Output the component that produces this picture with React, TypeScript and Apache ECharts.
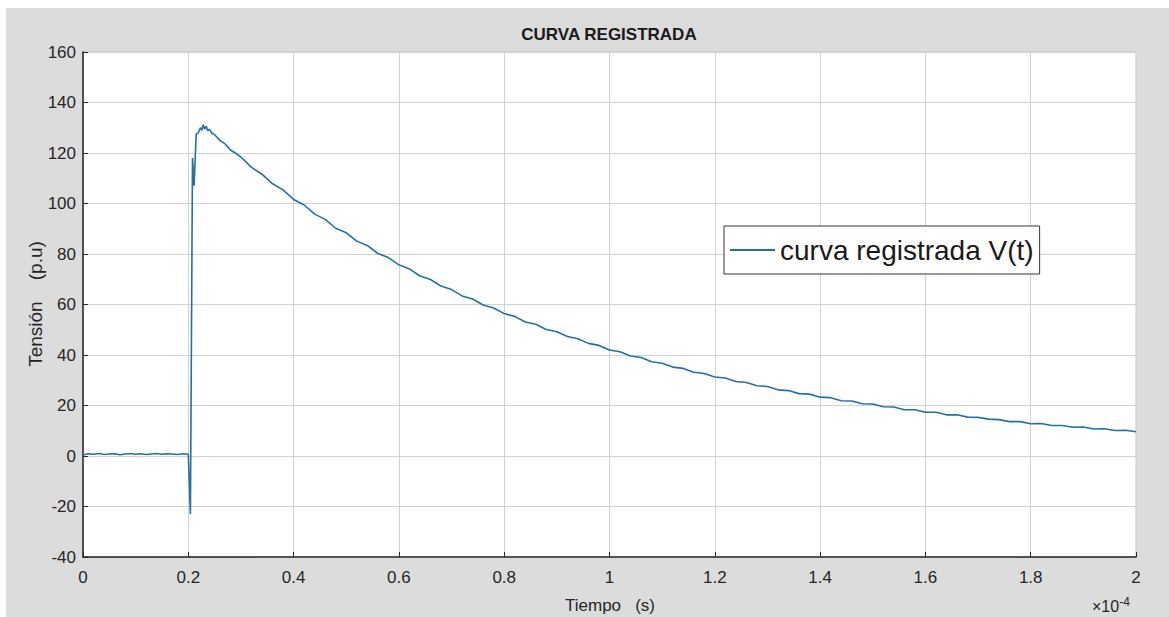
import React, { useEffect, useRef } from "react";
import * as echarts from "echarts";

// Time in units of 1e-4 s
const timeE4: number[] = [
  0, 0.01, 0.02, 0.03, 0.04, 0.05, 0.06, 0.07, 0.08, 0.09, 0.1, 0.11, 0.12, 0.13, 0.14, 0.15, 0.16, 0.17, 0.18, 0.19, 0.2,
  0.204, 0.208, 0.211, 0.215, 0.219, 0.223, 0.226, 0.228, 0.231, 0.234, 0.237, 0.24, 0.245, 0.25,
  0.26, 0.27, 0.28, 0.29, 0.3, 0.32, 0.34, 0.36, 0.38, 0.4, 0.42, 0.44, 0.46, 0.48, 0.5,
  0.52, 0.54, 0.56, 0.58, 0.6, 0.62, 0.64, 0.66, 0.68, 0.7, 0.72, 0.74, 0.76, 0.78, 0.8,
  0.82, 0.84, 0.86, 0.88, 0.9, 0.92, 0.94, 0.96, 0.98, 1.0, 1.02, 1.04, 1.06, 1.08, 1.1,
  1.12, 1.14, 1.16, 1.18, 1.2, 1.22, 1.24, 1.26, 1.28, 1.3, 1.32, 1.34, 1.36, 1.38, 1.4,
  1.42, 1.44, 1.46, 1.48, 1.5, 1.52, 1.54, 1.56, 1.58, 1.6, 1.62, 1.64, 1.66, 1.68, 1.7,
  1.72, 1.74, 1.76, 1.78, 1.8, 1.82, 1.84, 1.86, 1.88, 1.9, 1.92, 1.94, 1.96, 1.98, 2.0,
];

// Voltage in p.u
const tension: number[] = [
  0.4, 0.9, 0.7, 1.0, 0.6, 0.8, 0.9, 0.5, 0.8, 1.0, 0.7, 0.9, 0.6, 0.8, 1.0, 0.7, 0.9, 0.8, 0.6, 0.9, 0.7,
  -23, 118, 107, 127.5, 128, 130, 129, 131.2, 129.5, 130.6, 128.8, 129.4, 127.8, 127.2,
  125.0, 123.6, 121.2, 119.9, 118.4, 114.3, 111.6, 107.8, 105.4, 101.6, 99.4, 95.8, 93.7, 90.2, 88.4,
  85.1, 83.4, 80.2, 78.6, 75.7, 74.1, 71.3, 69.9, 67.3, 65.9, 63.4, 62.2, 59.8, 58.6, 56.4,
  55.3, 53.1, 52.2, 50.1, 49.2, 47.3, 46.4, 44.6, 43.8, 42.0, 41.3, 39.6, 39.0, 37.3, 36.7,
  35.2, 34.7, 33.2, 32.7, 31.3, 30.9, 29.5, 29.1, 27.8, 27.5, 26.2, 25.9, 24.7, 24.5, 23.3,
  23.1, 21.9, 21.8, 20.7, 20.6, 19.5, 19.4, 18.3, 18.3, 17.3, 17.3, 16.3, 16.3, 15.4, 15.3,
  14.6, 14.4, 13.6, 13.6, 12.8, 12.9, 12.1, 12.1, 11.4, 11.5, 10.7, 10.8, 10.1, 10.2, 9.6,
];

const seriesName = "curva registrada V(t)";
const titleText = "CURVA REGISTRADA";
const xName = "Tiempo   (s)";
const yName = "Tensión    (p.u)";

const FONT = "'Liberation Sans', Arial, sans-serif";

export default function App() {
  const ref = useRef<HTMLDivElement>(null);
  useEffect(() => {
    if (!ref.current) return;
    const chart = echarts.init(ref.current, null, { renderer: "svg" });
    const data = timeE4.map((t, i) => [t, tension[i]]);
    chart.setOption({
      animation: false,
      backgroundColor: "#ffffff",
      textStyle: { fontFamily: FONT },
      graphic: [
        {
          type: "rect",
          z: -10,
          silent: true,
          shape: { x: 6, y: 8, width: 1163, height: 609 },
          style: { fill: "#dcdcdc" },
        },
        {
          type: "text",
          x: 609,
          y: 34,
          style: {
            text: titleText,
            fontFamily: FONT,
            fontWeight: "bold",
            fontSize: 17,
            fill: "#1a1a1a",
            textAlign: "center",
            textVerticalAlign: "middle",
          },
        },
        {
          type: "text",
          x: 610,
          y: 605,
          style: {
            text: xName,
            fontFamily: FONT,
            fontSize: 17,
            fill: "#262626",
            textAlign: "center",
            textVerticalAlign: "middle",
          },
        },
        {
          type: "text",
          x: 35,
          y: 304,
          rotation: Math.PI / 2,
          style: {
            text: yName,
            fontFamily: FONT,
            fontSize: 19,
            fill: "#262626",
            textAlign: "center",
            textVerticalAlign: "middle",
          },
        },
        {
          type: "text",
          x: 1092,
          y: 606,
          style: {
            text: "{a|×10}{b|-4}",
            fontFamily: FONT,
            textVerticalAlign: "middle",
            rich: {
              a: { fontSize: 16, fill: "#262626", fontFamily: FONT },
              b: { fontSize: 12, fill: "#262626", fontFamily: FONT, verticalAlign: "top", padding: [0, 0, 8, 0] },
            },
          },
        },
      ],
      grid: {
        left: 83,
        right: 33,
        top: 52,
        bottom: 60,
        show: true,
        backgroundColor: "#ffffff",
        borderColor: "#c4c4c4",
        borderWidth: 1,
      },
      legend: {
        left: 724,
        top: 226,
        padding: [10, 6, 10, 6],
        backgroundColor: "#ffffff",
        borderColor: "#333333",
        borderWidth: 1,
        borderRadius: 0,
        icon: "rect",
        itemWidth: 45,
        itemHeight: 2,
        textStyle: { fontSize: 28, color: "#1a1a1a", fontFamily: FONT },
        data: [seriesName],
      },
      xAxis: {
        type: "value",
        min: 0,
        max: 2,
        interval: 0.2,
        axisLine: { show: true, onZero: false, lineStyle: { color: "#262626", width: 1.5 } },
        axisTick: { show: true, inside: true, length: 5, lineStyle: { color: "#262626" } },
        axisLabel: {
          fontSize: 17,
          color: "#262626",
          margin: 12,
          fontFamily: FONT,
          formatter: (v: number) => String(+v.toFixed(1)),
        },
        splitLine: { show: true, lineStyle: { color: "#d2d2d2", width: 1 } },
      },
      yAxis: {
        type: "value",
        min: -40,
        max: 160,
        interval: 20,
        axisLine: { show: true, onZero: false, lineStyle: { color: "#262626", width: 1.5 } },
        axisTick: { show: true, inside: true, length: 5, lineStyle: { color: "#262626" } },
        axisLabel: { fontSize: 17, color: "#262626", margin: 7, fontFamily: FONT },
        splitLine: { show: true, lineStyle: { color: "#d2d2d2", width: 1 } },
      },
      series: [
        {
          name: seriesName,
          type: "line",
          data,
          symbol: "none",
          showSymbol: false,
          lineStyle: { color: "#2471a3", width: 1.6 },
          itemStyle: { color: "#2471a3" },
        },
      ],
    });
    return () => chart.dispose();
  }, []);
  return (
    <div
      ref={ref}
      style={{ position: "absolute", left: 0, top: 0, width: 1169, height: 617 }}
    />
  );
}
